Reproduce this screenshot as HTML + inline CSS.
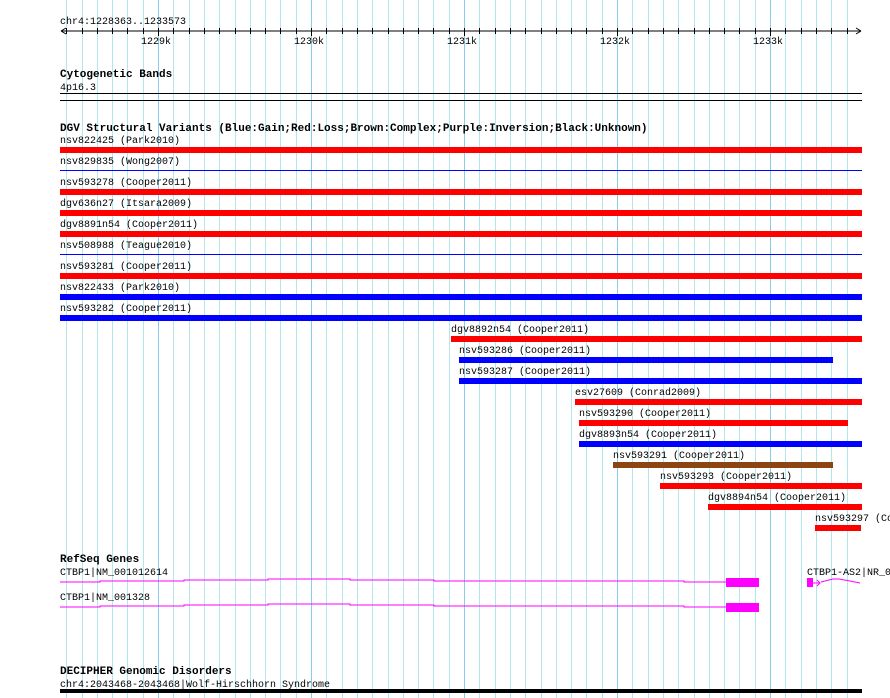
<!DOCTYPE html>
<html><head><meta charset="utf-8"><style>
html,body{margin:0;padding:0;background:#fff}
svg{display:block}
text{font-family:"Liberation Mono","DejaVu Sans Mono",monospace;font-size:10px;fill:#000}
.b{font-weight:bold;font-size:11px}
</style></head><body>
<svg id="chart" width="890" height="698" viewBox="0 0 890 698" xmlns="http://www.w3.org/2000/svg">
<g id="grid"></g>
<g id="ruler">
<text x="60" y="24">chr4:1228363..1233573</text>
<line x1="61" y1="31" x2="861" y2="31" stroke="#000"/>
<path d="M61 31 l5 -3 M61 31 l5 3 M861 31 l-5 -3 M861 31 l-5 3" stroke="#000" fill="none"/>
</g>
<g>
<text class="b" x="60" y="77">Cytogenetic Bands</text>
<text x="60" y="90">4p16.3</text>
<rect x="60" y="93" width="802" height="1" fill="#000"/>
<rect x="60" y="100" width="802" height="1" fill="#000"/>
</g>
<text class="b" x="60" y="131">DGV Structural Variants (Blue:Gain;Red:Loss;Brown:Complex;Purple:Inversion;Black:Unknown)</text>
<g id="dgv"></g>
<g>
<text class="b" x="60" y="562">RefSeq Genes</text>
<text x="60" y="575">CTBP1|NM_001012614</text>
<polyline points="60,582 100,582 100,581 184,581 184,580 268,580 268,579 350,579 350,580 434,580 434,581 600,581 600,581 684,581 684,582 726,582" fill="none" stroke="#f0f" stroke-width="1"/>
<rect x="726" y="578" width="33" height="9" fill="#f0f"/>
<text x="60" y="600">CTBP1|NM_001328</text>
<polyline points="60,607 100,607 100,606 184,606 184,605 268,605 268,604 350,604 350,605 434,605 434,606 600,606 684,606 684,607 726,607" fill="none" stroke="#f0f" stroke-width="1"/>
<rect x="726" y="603" width="33" height="9" fill="#f0f"/>
<text x="807" y="575">CTBP1-AS2|NR_0</text>
<rect x="807" y="578" width="6" height="9" fill="#f0f"/>
<path d="M813 583 l7 0 M817 580 l3 3 l-3 3 M821 582 L833 579 L839 579 L850 581 L860 583" stroke="#f0f" fill="none"/>
</g>
<g>
<text class="b" x="60" y="674">DECIPHER Genomic Disorders</text>
<text x="60" y="687">chr4:2043468-2043468|Wolf-Hirschhorn Syndrome</text>
<rect x="60" y="689" width="802" height="4" fill="#000"/>
</g>
</svg>
<script>
const majorTicks = [1229000, 1230000, 1231000, 1232000, 1233000];
const majorLabels = ["1229k", "1230k", "1231k", "1232k", "1233k"];
const viewStart = 1228363;
const viewEnd = 1233573;
const svNames = ["nsv822425 (Park2010)","nsv829835 (Wong2007)","nsv593278 (Cooper2011)","dgv636n27 (Itsara2009)","dgv8891n54 (Cooper2011)","nsv508988 (Teague2010)","nsv593281 (Cooper2011)","nsv822433 (Park2010)","nsv593282 (Cooper2011)","dgv8892n54 (Cooper2011)","nsv593286 (Cooper2011)","nsv593287 (Cooper2011)","esv27609 (Conrad2009)","nsv593290 (Cooper2011)","dgv8893n54 (Cooper2011)","nsv593291 (Cooper2011)","nsv593293 (Cooper2011)","dgv8894n54 (Cooper2011)","nsv593297 (Cooper2011)"];
const svStarts = [1228300,1228300,1228300,1228300,1228300,1228300,1228300,1228300,1228300,1230915,1230967,1230967,1231725,1231752,1231752,1231974,1232281,1232595,1233294];
const svEnds = [1233700,1233700,1233700,1233700,1233700,1233700,1233700,1233700,1233700,1233700,1233412,1233700,1233700,1233509,1233700,1233412,1233700,1233700,1233595];
const svTypes = ["loss","gain-thin","loss","loss","loss","gain-thin","loss","gain","gain","loss","gain","gain","loss","loss","gain","complex","loss","loss","loss"];

const NS = "http://www.w3.org/2000/svg";
function xScale(bp){ return 158 + (bp - 1229000) * 0.153; }
function clipX(x){ return Math.max(60, Math.min(862, x)); }
function mk(tag, attrs){ const e = document.createElementNS(NS, tag); for (const k in attrs) e.setAttribute(k, attrs[k]); return e; }

const grid = document.getElementById('grid');
const ruler = document.getElementById('ruler');
for (let bp = Math.ceil(viewStart/100)*100; bp <= viewEnd + 20; bp += 100) {
  const x = Math.round(xScale(bp)) + 0.5;
  const major = bp % 1000 === 0;
  const l = mk('line', {x1:x, y1:0, x2:x, y2:698, stroke: major ? '#88ccee' : '#b0e8ee', 'stroke-width':1});
  
  
  grid.appendChild(l);
  const t = mk('line', {x1:x, y1: 28, x2:x, y2: major ? 36 : 34, stroke:'#000'});
  
  
  ruler.appendChild(t);
}
majorTicks.forEach((bp, i) => {
  const t = mk('text', {x: Math.round(xScale(bp)) - 17, y: 44});
  t.textContent = majorLabels[i];
  
  
  ruler.appendChild(t);
});

const colors = {loss:'#ff0000', gain:'#0000ff', 'gain-thin':'#0000ff', complex:'#8b4513'};
const dgv = document.getElementById('dgv');
svNames.forEach((name, i) => {
  const top = 147 + 21 * i;
  const x1 = clipX(xScale(svStarts[i]));
  const x2 = clipX(xScale(svEnds[i]));
  const lab = mk('text', {x: Math.round(x1), y: top - 4});
  lab.textContent = name;
  
  
  dgv.appendChild(lab);
  const thin = svTypes[i] === 'gain-thin';
  const r = mk('rect', {x: Math.round(x1), y: thin ? top + 2 : top, width: Math.max(1, Math.round(x2 - x1)), height: thin ? 1 : 6, fill: colors[svTypes[i]]});
  
  
  dgv.appendChild(r);
});
</script>
</body></html>
